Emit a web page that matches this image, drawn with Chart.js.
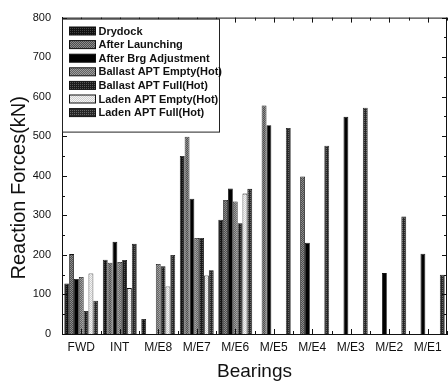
<!DOCTYPE html>
<html>
<head>
<meta charset="utf-8">
<script src="https://cdn.jsdelivr.net/npm/chart.js@4.4.1/dist/chart.umd.min.js"></script>
<style>
  html, body { margin: 0; padding: 0; background: #fff; }
  #wrap { width: 448px; height: 385px; }
</style>
</head>
<body>
<div id="wrap"><canvas id="reactions" width="448" height="385"></canvas></div>
<script>
// Paliers (axe X)
const paliers = ["FWD", "INT", "M/E8", "M/E7", "M/E6", "M/E5", "M/E4", "M/E3", "M/E2", "M/E1"];

// Une série par condition de chargement (kN), null = pas de mesure
const drydock        = [128, 188, 38, 450, 289, null, null, null, null, null];
const afterLaunching = [202, 180, null, 499, 339, 578, 398, null, null, null];
const afterBrgAdj    = [139, 233, null, 342, 368, 528, 231, 549, 154, 203];
const ballastEmpty   = [144, 182, 177, 243, 335, null, null, null, null, null];
const ballastFull    = [58, 187, 171, 243, 280, null, null, null, null, null];
const ladenEmpty     = [153, 116, 120, 148, 355, null, null, null, null, null];
const ladenFull      = [84, 228, 200, 161, 367, 521, 476, 572, 297, 150];

const nomsSeries = [
  "Drydock",
  "After Launching",
  "After Brg Adjustment",
  "Ballast APT Empty(Hot)",
  "Ballast APT Full(Hot)",
  "Laden APT Empty(Hot)",
  "Laden APT Full(Hot)"
];

const graduationsY = [0, 100, 200, 300, 400, 500, 600, 700, 800];
const titreY = "Reaction Forces(kN)";

// petite trame en damier pour imiter l'impression
function motif(fond, point, grille) {
  const c = document.createElement("canvas");
  c.width = 2; c.height = 2;
  const g = c.getContext("2d");
  g.fillStyle = fond;
  g.fillRect(0, 0, 2, 2);
  g.fillStyle = point;
  g.fillRect(0, 0, 1, 1);
  if (!grille) g.fillRect(1, 1, 1, 1);
  return g.createPattern(c, "repeat");
}

const fonds = [
  motif("#111111", "#444444", true),
  motif("#4e4e4e", "#8c8c8c"),
  "#020202",
  motif("#626262", "#9e9e9e"),
  motif("#1a1a1a", "#585858", true),
  motif("#cfcfcf", "#f4f4f4"),
  motif("#262626", "#686868", true)
];

const valeurs = [drydock, afterLaunching, afterBrgAdj, ballastEmpty, ballastFull, ladenEmpty, ladenFull];

const data = {
  labels: paliers,
  datasets: valeurs.map((v, i) => ({
    label: nomsSeries[i],
    data: v,
    backgroundColor: fonds[i],
    borderColor: "#111",
    borderWidth: 0.8,
    borderSkipped: "start",
    categoryPercentage: 0.88,
    barPercentage: 1.0
  }))
};

// cadre + petites graduations tournées vers l'intérieur + titre Y
const cadre = {
  id: "cadre",
  afterDatasetsDraw(chart) {
    const { ctx, chartArea: a, scales } = chart;
    ctx.save();
    ctx.strokeStyle = "#111";
    ctx.lineWidth = 1;
    ctx.beginPath();
    ctx.moveTo(a.left, a.top + 0.5);
    ctx.lineTo(a.right, a.top + 0.5);
    ctx.moveTo(a.right - 0.5, a.top);
    ctx.lineTo(a.right - 0.5, a.bottom);
    for (let v = 0; v <= 800; v += 50) {
      const y = Math.round(scales.y.getPixelForValue(v)) + 0.5;
      const l = v % 100 === 0 ? 5 : 3;
      ctx.moveTo(a.left, y); ctx.lineTo(a.left + l, y);
      ctx.moveTo(a.right, y); ctx.lineTo(a.right - l, y);
    }
    const demi = (scales.x.getPixelForValue(1) - scales.x.getPixelForValue(0)) / 2;
    paliers.forEach((p, i) => {
      const xc = Math.round(scales.x.getPixelForValue(i)) + 0.5;
      const xb = Math.round(scales.x.getPixelForValue(i) + demi) + 0.5;
      ctx.moveTo(xc, a.bottom); ctx.lineTo(xc, a.bottom - 5);
      ctx.moveTo(xc, a.top); ctx.lineTo(xc, a.top + 5);
      ctx.moveTo(xb, a.bottom); ctx.lineTo(xb, a.bottom - 3);
      ctx.moveTo(xb, a.top); ctx.lineTo(xb, a.top + 3);
    });
    ctx.stroke();

    // titre de l'axe Y, un peu plus bas que le centre comme sur l'original
    ctx.translate(19, (a.top + a.bottom) / 2 + 12);
    ctx.rotate(-Math.PI / 2);
    ctx.font = "20px Arial, 'Liberation Sans', sans-serif";
    ctx.fillStyle = "#111";
    ctx.textAlign = "center";
    ctx.textBaseline = "middle";
    ctx.fillText(titreY, 0, 0);
    ctx.restore();
  }
};

// légende dans le coin haut gauche du graphique
const legendeInterne = {
  id: "legendeInterne",
  afterDraw(chart) {
    const { ctx, chartArea: a } = chart;
    const x0 = a.left + 0.5, y0 = a.top + 1.5, w = 157, h = 113;
    ctx.save();
    ctx.fillStyle = "#fff";
    ctx.fillRect(x0, y0, w, h);
    ctx.strokeStyle = "#222";
    ctx.lineWidth = 1;
    ctx.strokeRect(x0, y0, w, h);
    ctx.font = "bold 11px Arial, 'Liberation Sans', sans-serif";
    ctx.textBaseline = "middle";
    chart.data.datasets.forEach((ds, i) => {
      const yc = 31 + i * 13.6;
      ctx.fillStyle = ds.backgroundColor;
      ctx.fillRect(x0 + 7, yc - 4, 26, 8);
      ctx.strokeStyle = "#111";
      ctx.strokeRect(x0 + 7, yc - 4, 26, 8);
      ctx.fillStyle = "#111";
      ctx.fillText(ds.label, x0 + 36, yc + 0.5);
    });
    ctx.restore();
  }
};

const config = {
  type: "bar",
  data: data,
  options: {
    responsive: false,
    animation: false,
    devicePixelRatio: 1,
    layout: { padding: { top: 12, right: 1, bottom: 2, left: 0 } },
    plugins: {
      legend: { display: false },
      tooltip: { enabled: false }
    },
    scales: {
      x: {
        offset: true,
        grid: { display: false, drawTicks: false },
        border: { display: true, color: "#111", width: 1 },
        ticks: {
          color: "#111",
          font: { family: "Arial, 'Liberation Sans', sans-serif", size: 12 },
          padding: 6,
          maxRotation: 0,
          autoSkip: false
        },
        title: {
          display: true,
          text: "Bearings",
          color: "#111",
          font: { family: "Arial, 'Liberation Sans', sans-serif", size: 19 },
          padding: { top: 0, bottom: 0 }
        },
        afterFit: (s) => { s.height = 49; }
      },
      y: {
        min: 0,
        max: 800,
        grid: { display: false, drawTicks: false },
        border: { display: true, color: "#111", width: 1 },
        afterBuildTicks: (s) => { s.ticks = graduationsY.map(v => ({ value: v })); },
        ticks: {
          color: "#111",
          font: { family: "Arial, 'Liberation Sans', sans-serif", size: 11 },
          padding: 11
        },
        title: { display: false },
        afterFit: (s) => { s.width = 62; }
      }
    }
  },
  plugins: [cadre, legendeInterne]
};

const graphique = new Chart(document.querySelector("#reactions"), config);
</script>
</body>
</html>
